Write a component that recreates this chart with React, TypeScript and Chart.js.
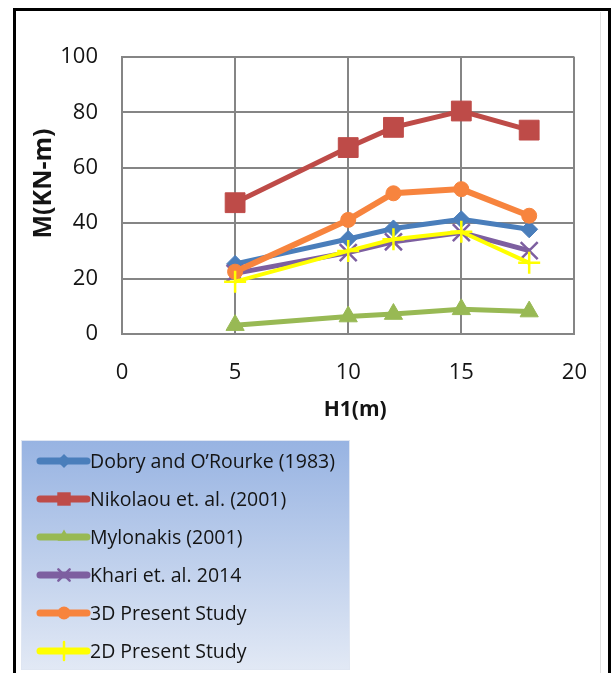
import React, { useEffect, useRef } from "react";
import { Chart, registerables } from "chart.js";

Chart.register(...registerables);

// ---- data ----
const H1 = [5, 10, 12, 15, 18];
const dobry = [25.3, 34.3, 38.1, 41.4, 37.8];
const nikolaou = [47.4, 67.3, 74.6, 80.5, 73.6];
const mylonakis = [3.2, 6.3, 7.2, 8.9, 8.1];
const khari = [21.9, 29.4, 33.3, 36.6, 30.1];
const present3D = [22.5, 41.2, 50.8, 52.3, 42.7];
const present2D = [18.9, 30.0, 34.2, 36.9, 25.7];

const seriesNames = [
  "Dobry and O\u2019Rourke (1983)",
  "Nikolaou et. al. (2001)",
  "Mylonakis (2001)",
  "Khari et. al. 2014",
  "3D Present Study",
  "2D Present Study",
];
const seriesValues = [dobry, nikolaou, mylonakis, khari, present3D, present2D];

const xMin = 0, xMax = 20, xStep = 5;
const yMin = 0, yMax = 100, yStep = 20;
const xTitle = "H1(m)";
const yTitle = "M(KN-m)";

// ---- styles ----
const seriesStyles = [
  { color: "#4A7EBB", width: 5, point: "rectRot", radius: 8.5, pbw: 1, legendRadius: 7 },
  { color: "#BE4B48", width: 5, point: "rect", radius: 14, pbw: 1, legendRadius: 9.5 },
  { color: "#98B954", width: 5, point: "triangle", radius: 10.5, pbw: 1, legendRadius: 7.5 },
  { color: "#7D5FA0", width: 5, point: "crossRot", radius: 12, pbw: 2.5, legendRadius: 8 },
  { color: "#F7843E", width: 6, point: "circle", radius: 7.5, pbw: 1, legendRadius: 6.5 },
  { color: "#FFFF00", width: 4, point: "cross", radius: 11, pbw: 2.5, legendRadius: 9 },
];

const FONT = "'Open Sans', Lato, 'DejaVu Sans', sans-serif";
const GRID = "#858585";
const TEXT = "#141414";

function drawMarker(ctx: CanvasRenderingContext2D, style: string, x: number, y: number, r: number, color: string, lw: number) {
  ctx.save();
  ctx.fillStyle = color;
  ctx.strokeStyle = color;
  ctx.lineWidth = lw;
  ctx.beginPath();
  if (style === "rect") {
    const s = r * Math.SQRT1_2;
    ctx.rect(x - s, y - s, 2 * s, 2 * s);
    ctx.fill();
  } else if (style === "rectRot") {
    ctx.moveTo(x, y - r);
    ctx.lineTo(x + r, y);
    ctx.lineTo(x, y + r);
    ctx.lineTo(x - r, y);
    ctx.closePath();
    ctx.fill();
  } else if (style === "triangle") {
    ctx.moveTo(x, y - r);
    ctx.lineTo(x + r * 0.866, y + r * 0.5);
    ctx.lineTo(x - r * 0.866, y + r * 0.5);
    ctx.closePath();
    ctx.fill();
  } else if (style === "circle") {
    ctx.arc(x, y, r, 0, Math.PI * 2);
    ctx.fill();
  } else if (style === "crossRot") {
    const s = r * Math.SQRT1_2;
    ctx.moveTo(x - s, y - s);
    ctx.lineTo(x + s, y + s);
    ctx.moveTo(x - s, y + s);
    ctx.lineTo(x + s, y - s);
    ctx.stroke();
  } else if (style === "cross") {
    ctx.moveTo(x, y - r);
    ctx.lineTo(x, y + r);
    ctx.moveTo(x - r, y);
    ctx.lineTo(x + r, y);
    ctx.stroke();
  }
  ctx.restore();
}

const decorPlugin = {
  id: "decor",
  beforeDraw(chart: any) {
    const ctx: CanvasRenderingContext2D = chart.ctx;
    ctx.save();
    ctx.fillStyle = "#ffffff";
    ctx.fillRect(0, 0, chart.width, chart.height);
    ctx.strokeStyle = "#e2e2e2";
    ctx.lineWidth = 1;
    ctx.beginPath();
    ctx.moveTo(600.5, 12);
    ctx.lineTo(600.5, chart.height);
    ctx.stroke();
    ctx.strokeStyle = "#000000";
    ctx.lineWidth = 3;
    ctx.strokeRect(14.5, 9.5, 595, 720);
    ctx.restore();
  },
  afterDraw(chart: any) {
    const ctx: CanvasRenderingContext2D = chart.ctx;
    const area = chart.chartArea;
    ctx.save();
    // axis titles
    ctx.fillStyle = TEXT;
    ctx.textAlign = "center";
    ctx.textBaseline = "middle";
    ctx.font = `bold 21px ${FONT}`;
    ctx.fillText(xTitle, (area.left + area.right) / 2 + 7, area.bottom + 76);
    ctx.save();
    ctx.translate(44, (area.top + area.bottom) / 2 - 12);
    ctx.rotate(-Math.PI / 2);
    ctx.font = `bold 25px ${FONT}`;
    ctx.fillText(yTitle, 0, 0);
    ctx.restore();

    // legend
    const lx = 21, ly = 440, lw = 329, lh = 230;
    const g = ctx.createLinearGradient(0, ly, 0, ly + lh);
    g.addColorStop(0, "#97b3e2");
    g.addColorStop(1, "#e2e9f5");
    ctx.fillStyle = g;
    ctx.fillRect(lx, ly, lw, lh);
    ctx.strokeStyle = "#dfe6f2";
    ctx.lineWidth = 1;
    ctx.strokeRect(lx + 0.5, ly + 0.5, lw - 1, lh - 1);

    chart.data.datasets.forEach((ds: any, i: number) => {
      const st = seriesStyles[i];
      const y = 461 + 38 * i;
      ctx.strokeStyle = st.color;
      ctx.lineWidth = 7;
      ctx.lineCap = "round";
      ctx.beginPath();
      ctx.moveTo(40, y);
      ctx.lineTo(87, y);
      ctx.stroke();
      drawMarker(ctx, st.point, 64, y, st.legendRadius, st.color, st.pbw);
      ctx.fillStyle = TEXT;
      ctx.font = `19.5px ${FONT}`;
      ctx.textAlign = "left";
      ctx.textBaseline = "middle";
      ctx.fillText(ds.label, 90, y + 1);
    });
    ctx.restore();
  },
};

export default function App() {
  const ref = useRef<HTMLCanvasElement | null>(null);

  useEffect(() => {
    if (!ref.current) return;
    const datasets = seriesNames.map((name, i) => {
      const st = seriesStyles[i];
      return {
        label: name,
        data: H1.map((x, j) => ({ x, y: seriesValues[i][j] })),
        borderColor: st.color,
        backgroundColor: st.color,
        borderWidth: st.width,
        pointStyle: st.point,
        pointRadius: st.radius,
        pointBorderWidth: st.pbw,
        pointBackgroundColor: st.color,
        pointBorderColor: st.color,
        tension: 0,
        clip: false,
        order: seriesNames.length - i,
      };
    });
    const tickFont = { family: FONT, size: 22 };
    const chart = new Chart(ref.current, {
      type: "line",
      data: { datasets: datasets as any },
      plugins: [decorPlugin as any],
      options: {
        animation: false,
        responsive: false,
        events: [],
        layout: { padding: { left: 0, top: 57, right: 27, bottom: 279 } },
        plugins: { legend: { display: false }, tooltip: { enabled: false } },
        scales: {
          x: {
            type: "linear",
            min: xMin,
            max: xMax,
            ticks: { stepSize: xStep, font: tickFont, color: TEXT, padding: 26 },
            grid: { color: GRID, lineWidth: 2, drawTicks: false },
            border: { color: GRID, width: 2 },
            afterFit: (s: any) => { s.height = 60; },
          },
          y: {
            type: "linear",
            min: yMin,
            max: yMax,
            ticks: { stepSize: yStep, font: tickFont, color: TEXT, padding: 24 },
            grid: { color: GRID, lineWidth: 2, drawTicks: false },
            border: { color: GRID, width: 2 },
            afterFit: (s: any) => { s.width = 122; },
          },
        },
      } as any,
    });
    return () => chart.destroy();
  }, []);

  return (
    <div style={{ position: "fixed", left: 0, top: 0, width: 613, height: 673 }}>
      <canvas ref={ref} width={613} height={673} style={{ display: "block" }} />
    </div>
  );
}
